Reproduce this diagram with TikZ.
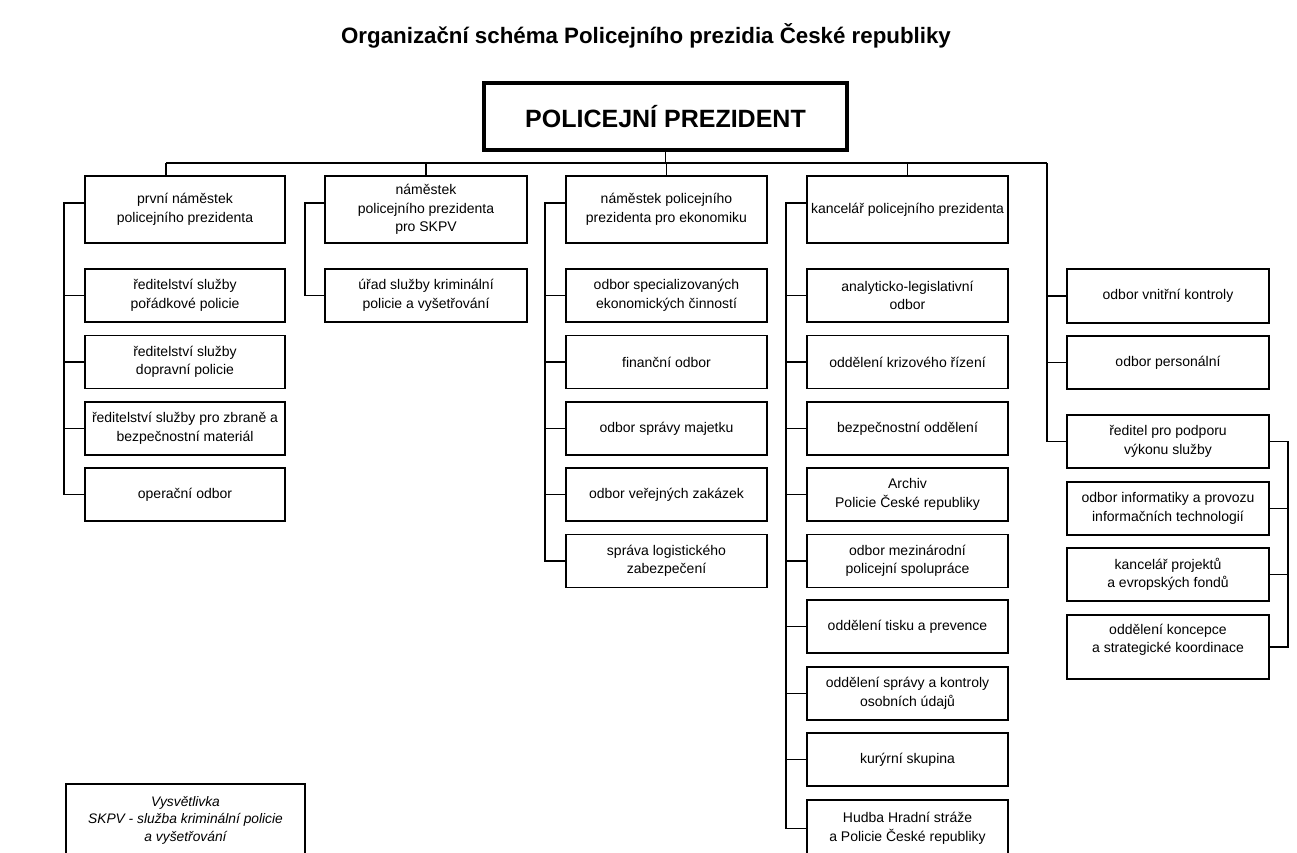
\documentclass[tikz,border=0pt]{standalone}
\usepackage{fontspec}
\setmainfont{Liberation Sans}
\begin{document}
\begin{tikzpicture}[x=1pt,y=-1pt,
  box/.style={draw, line width=1.9pt, align=center, inner sep=1pt, font=\fontsize{14}{18.5}\selectfont, minimum height=53pt},
  ln/.style={line width=1.9pt},
  wA/.style={minimum width=200pt},
  wB/.style={minimum width=202pt},
  wC/.style={minimum width=201pt}]
\useasboundingbox (0,0) rectangle (1297,853);
\fill[white] (0,0) rectangle (1297,853);

\node[font=\bfseries\fontsize{22.3}{26}\selectfont, anchor=base] (title) at (646,44) {Organizační schéma Policejního prezidia České republiky};

\node[draw, line width=3.8pt, minimum width=363pt, minimum height=67pt, font=\bfseries\fontsize{25}{30}\selectfont] (pres) at (665.5,116.5) {POLICEJNÍ PREZIDENT};

% column 1
\node[box,wA,minimum height=67pt] (c1h) at (185,209.5) {první náměstek\\policejního prezidenta};
\node[box,wA] (c1a) at (185,295.5) {ředitelství služby\\pořádkové policie};
\node[box,wA] (c1b) at (185,362) {ředitelství služby\\dopravní policie};
\node[box,wA] (c1c) at (185,428.5) {ředitelství služby pro zbraně a\\bezpečnostní materiál};
\node[box,wA] (c1d) at (185,494.5) {operační odbor};

% column 2
\node[box,wB,minimum height=67pt] (c2h) at (426,209.5) {náměstek\\policejního prezidenta\\pro SKPV};
\node[box,wB] (c2a) at (426,295.5) {úřad služby kriminální\\policie a vyšetřování};

% column 3
\node[box,wC,minimum height=67pt] (c3h) at (666.5,209.5) {náměstek policejního\\prezidenta pro ekonomiku};
\node[box,wC] (c3a) at (666.5,295.5) {odbor specializovaných\\ekonomických činností};
\node[box,wC] (c3b) at (666.5,362) {finanční odbor};
\node[box,wC] (c3c) at (666.5,428.5) {odbor správy majetku};
\node[box,wC] (c3d) at (666.5,494.5) {odbor veřejných zakázek};
\node[box,wC] (c3e) at (666.5,561) {správa logistického\\zabezpečení};

% column 4
\node[box,wC,minimum height=67pt] (c4h) at (907.5,209.5) {kancelář policejního prezidenta};
\node[box,wC] (c4a) at (907.5,295.5) {analyticko-legislativní\\odbor};
\node[box,wC] (c4b) at (907.5,362) {oddělení krizového řízení};
\node[box,wC] (c4c) at (907.5,428.5) {bezpečnostní oddělení};
\node[box,wC] (c4d) at (907.5,494.5) {Archiv\\Policie České republiky};
\node[box,wC] (c4e) at (907.5,561) {odbor mezinárodní\\policejní spolupráce};
\node[box,wC] (c4f) at (907.5,626.5) {oddělení tisku a prevence};
\node[box,wC] (c4g) at (907.5,693.5) {oddělení správy a kontroly\\osobních údajů};
\node[box,wC] (c4i) at (907.5,759.5) {kurýrní skupina};
\node[box,wC,minimum height=57pt] (c4j) at (907.5,828.5) {Hudba Hradní stráže\\a Policie České republiky};

% column 5
\node[box,wB,minimum height=54pt] (c5a) at (1168,296) {odbor vnitřní kontroly};
\node[box,wB] (c5b) at (1168,362.5) {odbor personální};
\node[box,wB] (c5c) at (1168,441.5) {ředitel pro podporu\\výkonu služby};
\node[box,wB] (c5d) at (1168,508.5) {odbor informatiky a provozu\\informačních technologií};
\node[box,wB] (c5e) at (1168,574.5) {kancelář projektů\\a evropských fondů};
\node[box,wB,minimum height=64pt,
  label={[align=center,font=\fontsize{14}{18.5}\selectfont,yshift=7pt]center:oddělení koncepce\\a strategické koordinace}] (c5f) at (1168,647) {};

% legend
\node[box, font=\itshape\fontsize{13.8}{17.5}\selectfont, minimum width=239pt, minimum height=72pt] (leg) at (185.5,820) {Vysvětlivka\\SKPV - služba kriminální policie\\a vyšetřování};

% top bus
\coordinate (tb1) at (166,163);
\coordinate (tb5) at (1047,163);
\draw[ln] (tb1) -- (tb5);
\draw[ln] (pres.south) -- (pres.south |- tb1);
\draw[ln] (tb1) -- (tb1 |- c1h.north);
\draw[ln] (c2h.north) -- (c2h.north |- tb1);
\draw[ln] (c3h.north) -- (c3h.north |- tb1);
\draw[ln] (c4h.north) -- (c4h.north |- tb1);
\draw[ln] (tb5) |- (c5c.west);

% column buses
\draw[ln] ([yshift=6.5pt]c1h.west) -- ++(-20,0) |- (c1d.west);
\foreach \n in {c1a,c1b,c1c} \draw[ln] (\n.west) -- ++(-20,0);

\draw[ln] ([yshift=6.5pt]c2h.west) -- ++(-19,0) |- (c2a.west);

\draw[ln] ([yshift=6.5pt]c3h.west) -- ++(-20,0) |- (c3e.west);
\foreach \n in {c3a,c3b,c3c,c3d} \draw[ln] (\n.west) -- ++(-20,0);

\draw[ln] ([yshift=6.5pt]c4h.west) -- ++(-20,0) |- (c4j.west);
\foreach \n in {c4a,c4b,c4c,c4d,c4e,c4f,c4g,c4i} \draw[ln] (\n.west) -- ++(-20,0);

\foreach \n in {c5a,c5b} \draw[ln] (\n.west) -- ++(-20,0);
\draw[ln] (c5c.east) -- ++(18,0) |- (c5f.east);
\foreach \n in {c5d,c5e} \draw[ln] (\n.east) -- ++(18,0);
\end{tikzpicture}
\end{document}
